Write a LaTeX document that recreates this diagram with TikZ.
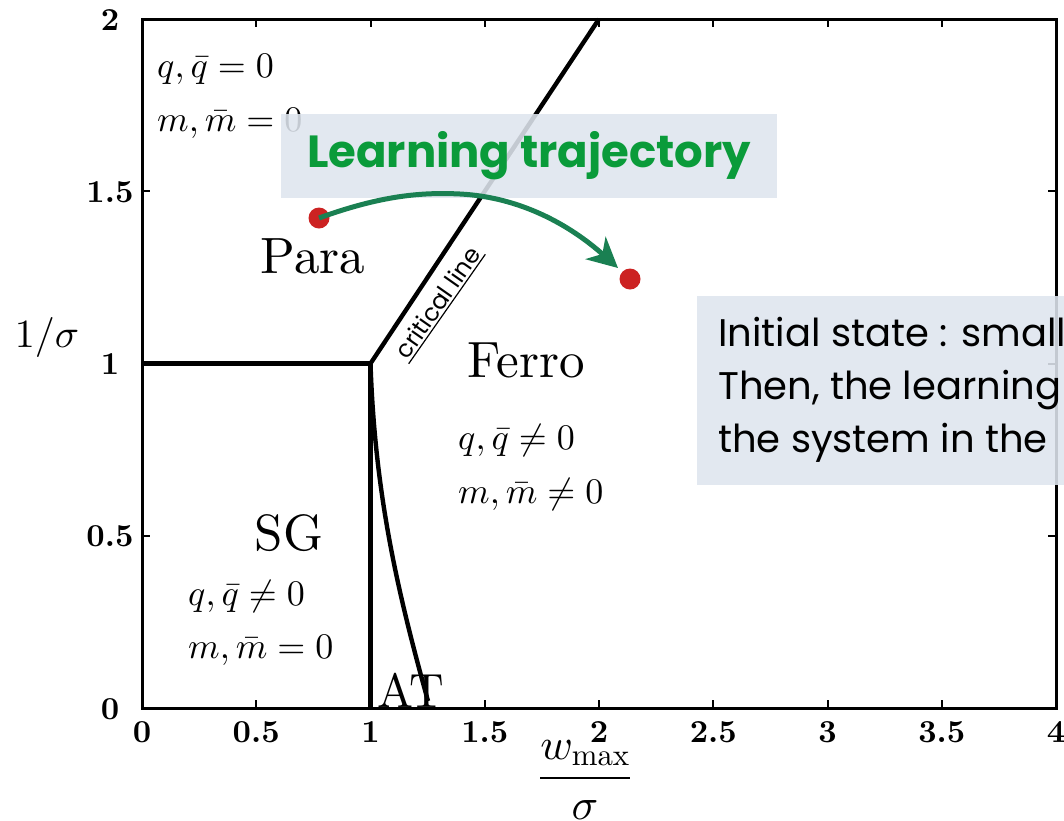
\documentclass[tikz,border=0pt]{standalone}
\usepackage{amsmath}
\DeclareFontShape{OML}{cmm}{m}{it}{<->cmmi10}{}
\DeclareFontShape{OML}{cmm}{b}{it}{<->cmmib10}{}
\DeclareFontShape{OT1}{cmr}{m}{n}{<->cmr10}{}
\DeclareFontShape{OT1}{cmr}{bx}{n}{<->cmbx10}{}
\DeclareFontShape{OMS}{cmsy}{m}{n}{<->cmsy10}{}
\DeclareFontShape{OMX}{cmex}{m}{n}{<->cmex10}{}
\usepackage{fontspec}
\setmainfont{lmroman10}[Extension=.otf, UprightFont=*-regular, BoldFont=*-bold, ItalicFont=*-italic, BoldItalicFont=*-bolditalic]
\newfontfamily\qs{Poppins}
\usetikzlibrary{arrows.meta}
\definecolor{boxbg}{HTML}{DEE5EE}
\definecolor{lgreen}{HTML}{0A9B3A}
\definecolor{agreen}{HTML}{1A8052}
\definecolor{dotred}{HTML}{CC2222}
\begin{document}
\begin{tikzpicture}[x=1pt,y=-1pt,
  axisframe/.style={line width=3pt},
  phaseline/.style={line width=4.4pt},
  tickmark/.style={line width=2pt},
  ticklab/.style={font=\fontsize{32}{34}\selectfont\bfseries, inner sep=0pt, anchor=base},
  regionlab/.style={font=\fontsize{51}{53}\selectfont, inner sep=0pt, anchor=base},
  mathlab/.style={font=\fontsize{36}{38}\selectfont, inner sep=0pt, anchor=base west},
  infobox/.style={fill=boxbg, fill opacity=0.88, text opacity=1, draw=none, inner sep=0pt},
  infotext/.style={font=\qs\fontsize{38.5}{40}\selectfont, inner sep=0pt, anchor=base west},
  reddot/.style={circle, fill=dotred, minimum size=21pt, inner sep=0pt},
  trajarrow/.style={draw=agreen, line width=5pt, -{Stealth[length=30pt,width=30pt,inset=9pt]}},
]
\useasboundingbox (0,0) rectangle (1064,820);
\clip (0,0) rectangle (1064,820);
% frame
\draw[axisframe] (142,19) rectangle (1056,708);
\foreach \k in {1,...,7} {
  \draw[tickmark] ({142+114.25*\k},708) -- ++(0,-8);
  \draw[tickmark] ({142+114.25*\k},19) -- ++(0,8);
}
\foreach \k in {1,2,3} {
  \draw[tickmark] (142,{708-172.25*\k}) -- ++(8,0);
  \draw[tickmark] (1056,{708-172.25*\k}) -- ++(-8,0);
}
% tick labels
\foreach \v [count=\i from 0] in {0,0.5,1,1.5,2,2.5,3,3.5,4}
  \node[ticklab] (xt\i) at ({142+114.25*\i},742) {\v};
\foreach \v [count=\i from 0] in {0,0.5,1,1.5,2}
  \node[ticklab] (yt\i) at (110,{708-172.25*\i+11}) {\v};
% axis labels
\node[font=\fontsize{40}{42}\selectfont, inner sep=0pt, anchor=base] (ylab) at (47,347) {$1/\sigma$};
\node[font=\fontsize{44}{46}\selectfont, inner sep=0pt, anchor=base] (xlab) at (585,789) {$\dfrac{w_{\max}}{\sigma}$};
% phase boundaries
\coordinate (P01) at (142,363.5);
\coordinate (P11) at (370.5,363.5);
\coordinate (P10) at (370.5,708);
\coordinate (P22) at (599,19);
\coordinate (PAT) at (428,701);
\draw[phaseline] (P01) -- (P11) -- (P10);
\draw[phaseline] (P11) -- (P22);
\draw[phaseline] (P11) .. controls (375,500) and (400,600) .. (PAT);
% region labels
\node[regionlab] (para) at (313,273) {Para};
\node[regionlab] (ferro) at (526,377) {Ferro};
\node[regionlab] (sg) at (289,550) {SG};
\node[regionlab, font=\fontsize{48}{50}\selectfont, anchor=base west] (at) at (377,707) {AT};
\node[mathlab] (pq) at (157,77) {$q,\bar q=0$};
\node[mathlab] (pm) at (157,131) {$m,\bar m=0$};
\node[mathlab] (fq) at (458,449) {$q,\bar q\neq 0$};
\node[mathlab] (fm) at (458,503) {$m,\bar m\neq 0$};
\node[mathlab] (sq) at (188,605) {$q,\bar q\neq 0$};
\node[mathlab] (sm) at (188,658) {$m,\bar m=0$};
% critical line label
\node[font=\qs\fontsize{24}{26}\selectfont, rotate=55, anchor=south, inner sep=2pt] (cl) at (447,309) {critical line};
\draw[line width=1.2pt] (cl.south west) -- (cl.south east);
% boxes
\node[infobox, minimum width=496pt, minimum height=84pt, font=\qs\bfseries\fontsize{45}{47}\selectfont, text=lgreen] (lt) at (529,156) {Learning trajectory};
\node[infobox, anchor=north west, minimum width=420pt, minimum height=189pt] (ib) at (697,296) {};
\node[infotext] (l1) at (718,346) {Initial state : small};
\node[infotext] (l2) at (718,399) {Then, the learning};
\node[infotext] (l3) at (718,452) {the system in the};
% trajectory
\node[reddot] (d1) at (319,218) {};
\node[reddot] (d2) at (630,279) {};
\coordinate (tip) at (618,268);
\draw[trajarrow] (d1.center) .. controls (380,196) and (420,192) .. (460,194) .. controls (520,197) and (570,225) .. (tip);
\end{tikzpicture}
\end{document}
